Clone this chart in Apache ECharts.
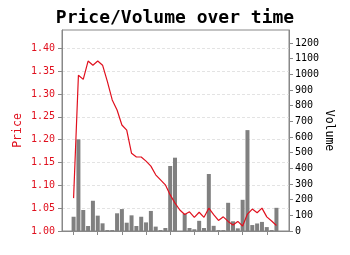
<!DOCTYPE html>
<html>
<head>
<meta charset="utf-8">
<script src="https://cdn.jsdelivr.net/npm/echarts@6/dist/echarts.min.js"></script>
<style>html,body{margin:0;padding:0;background:#fff}#c{width:350px;height:255px}</style>
</head>
<body>
<div id="c"></div>
<script>
const price = [1.072,1.341,1.332,1.372,1.363,1.372,1.363,1.327,1.287,1.265,
  1.232,1.221,1.170,1.162,1.162,1.153,1.142,1.123,1.112,1.101,
  1.079,1.061,1.046,1.036,1.042,1.030,1.041,1.030,1.050,1.036,
  1.023,1.031,1.021,1.013,1.021,1.011,1.037,1.048,1.040,1.050,
  1.031,1.022,1.012];
const volume = [91,585,134,32,193,98,49,6,6,113,
  140,53,100,32,91,55,128,28,6,19,
  415,468,0,110,19,11,65,19,364,33,
  6,6,180,62,17,199,644,38,48,58,
  25,6,148];
const priceTicks = [1.00,1.05,1.10,1.15,1.20,1.25,1.30,1.35,1.40];
const volumeTicks = [0,100,200,300,400,500,600,700,800,900,1000,1100,1200];
const xTicks = [0,5,10,15,20,25,30,35,40];

const idx = price.map((_, i) => i);
const mono = 'DejaVu Sans Mono';
const RED = '#e0101e';
const chart = echarts.init(document.getElementById('c'), null, {renderer: 'canvas'});
chart.setOption({
  animation: false,
  backgroundColor: '#fff',
  title: {
    text: 'Price/Volume over time', left: 'center', top: 4,
    textStyle: {fontFamily: mono, fontWeight: 'bold', fontSize: 18, color: '#000'}
  },
  grid: {left: 62, right: 61, top: 30, bottom: 24, show: true, borderColor: '#888', borderWidth: 1, backgroundColor: 'transparent'},
  xAxis: {
    type: 'value', min: -2.4, max: 44.6,
    axisLine: {show: true, onZero: false, lineStyle: {color: '#888'}},
    axisTick: {show: true, length: 4, customValues: xTicks, lineStyle: {color: '#888'}},
    axisLabel: {show: false},
    splitLine: {show: false}
  },
  yAxis: [{
    type: 'value', min: 1.0, max: 1.44, interval: 0.05,
    name: 'Price', nameLocation: 'middle', nameGap: 38, nameRotate: 90, nameMoveOverlap: false,
    nameTextStyle: {color: RED, fontFamily: mono, fontSize: 11.5},
    axisLine: {show: true, onZero: false, lineStyle: {color: '#888'}},
    axisTick: {show: true, length: 4, customValues: priceTicks, lineStyle: {color: '#888'}},
    axisLabel: {customValues: priceTicks, color: RED, fontFamily: mono, fontSize: 10, margin: 7,
      formatter: v => v.toFixed(2)},
    splitLine: {show: true, lineStyle: {color: '#dcdcdc', type: [3, 2], width: 0.8}}
  }, {
    type: 'value', min: 0, max: 1283, interval: 100, position: 'right',
    name: 'Volume', nameLocation: 'middle', nameGap: 34, nameRotate: -90, nameMoveOverlap: false,
    nameTextStyle: {color: '#000', fontFamily: mono, fontSize: 11.5},
    axisLine: {show: true, onZero: false, lineStyle: {color: '#888'}},
    axisTick: {show: true, length: 4, customValues: volumeTicks, lineStyle: {color: '#888'}},
    axisLabel: {customValues: volumeTicks, color: '#000', fontFamily: mono, fontSize: 10, margin: 6,
      formatter: v => String(Math.round(v))},
    splitLine: {show: false}
  }],
  series: [{
    type: 'bar', yAxisIndex: 1, barWidth: 4,
    data: idx.map(i => [i, volume[i]]),
    itemStyle: {color: '#808080'}, z: 2
  }, {
    type: 'line', yAxisIndex: 0, showSymbol: false,
    data: idx.map(i => [i, price[i]]),
    lineStyle: {color: RED, width: 1.2}, z: 3
  }]
});
</script>
</body>
</html>
